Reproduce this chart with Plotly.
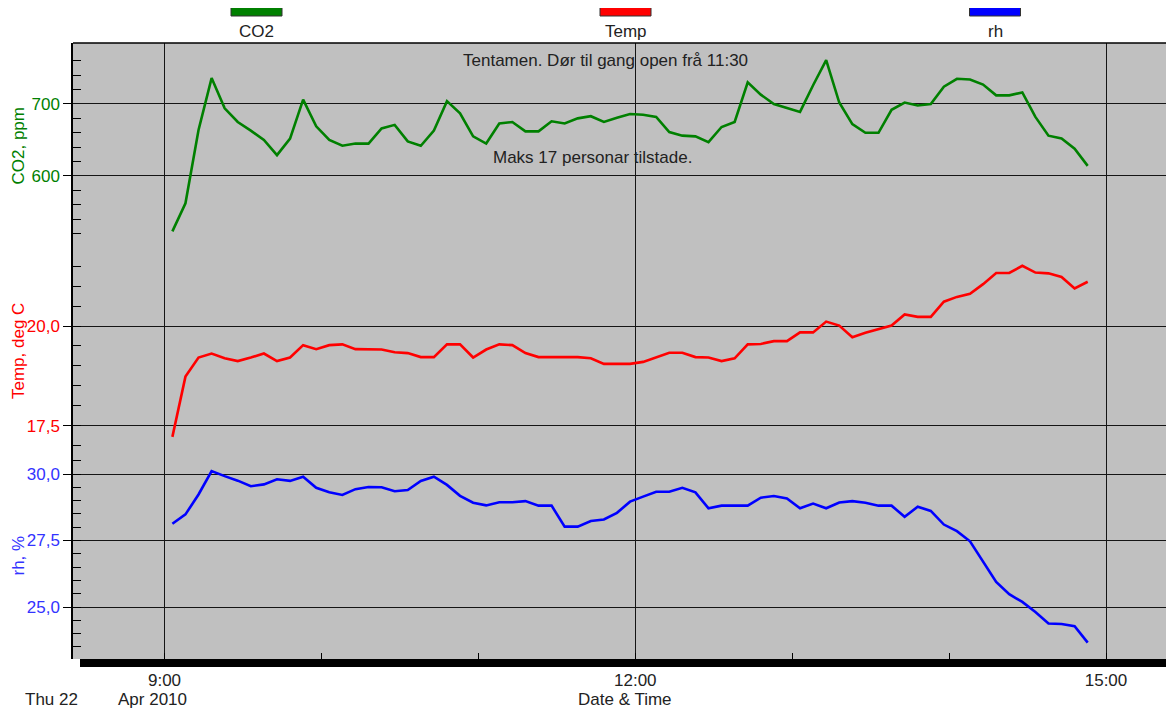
import pandas as pd
import plotly.graph_objects as go

# 5-minutters målingar, Thu 22 Apr 2010
times = pd.date_range("2010-04-22 09:03", periods=71, freq="5min")

co2 = [
    523, 562, 664, 736, 694, 675, 663, 650, 629, 652,
    706, 669, 650, 642, 645, 645, 666, 671, 648, 642,
    663, 704, 687, 655, 645, 673, 675, 662, 662, 676,
    673, 680, 683, 675, 681, 686, 685, 682, 661, 656,
    655, 647, 668, 675, 730, 713, 700, 694, 689, 726,
    761, 702, 672, 660, 660, 692, 702, 698, 700, 724,
    735, 734, 727, 712, 712, 716, 682, 656, 652, 638,
    614,
]

temp = [
    17.22, 18.73, 19.21, 19.31, 19.19, 19.12, 19.21, 19.31, 19.12, 19.21,
    19.52, 19.42, 19.52, 19.54, 19.42, 19.42, 19.41, 19.34, 19.32, 19.22,
    19.22, 19.54, 19.54, 19.21, 19.41, 19.54, 19.52, 19.32, 19.22, 19.22,
    19.22, 19.22, 19.19, 19.05, 19.05, 19.05, 19.10, 19.21, 19.33, 19.33,
    19.22, 19.21, 19.12, 19.19, 19.54, 19.55, 19.62, 19.62, 19.84, 19.84,
    20.11, 20.01, 19.72, 19.83, 19.92, 20.01, 20.29, 20.23, 20.23, 20.61,
    20.73, 20.81, 21.05, 21.33, 21.33, 21.51, 21.34, 21.32, 21.23, 20.94,
    21.11,
]

rh = [
    28.13, 28.48, 29.23, 30.11, 29.92, 29.75, 29.54, 29.61, 29.80, 29.74,
    29.90, 29.48, 29.31, 29.21, 29.43, 29.51, 29.50, 29.35, 29.40, 29.74,
    29.90, 29.59, 29.18, 28.92, 28.82, 28.94, 28.94, 28.98, 28.81, 28.81,
    28.02, 28.02, 28.23, 28.29, 28.54, 28.96, 29.15, 29.33, 29.33, 29.48,
    29.31, 28.71, 28.81, 28.81, 28.81, 29.11, 29.17, 29.08, 28.71, 28.89,
    28.71, 28.93, 28.98, 28.92, 28.81, 28.81, 28.39, 28.77, 28.61, 28.10,
    27.85, 27.47, 26.70, 25.94, 25.48, 25.19, 24.81, 24.38, 24.36, 24.28,
    23.66,
]

series_names = ["CO2", "Temp", "rh"]
series_colors = ["#008000", "#ff0000", "#0000ff"]
label_colors = ["#008000", "#ff0000", "#3333ff"]
axis_titles = ["CO2, ppm", "Temp, deg C", "rh, %"]

notes = ["Tentamen. Dør til gang open frå 11:30", "Maks 17 personar tilstade."]

# sida har 8 px body-marg, så figuren er mindre og alle mål er i skjermpikslar
OFF = 8
SCR_W, SCR_H = 1174, 715
W, H = SCR_W - OFF, SCR_H - OFF
PL, PT, PR, PB = 73, 43, 1174, 659          # plottområdet på skjermen
ML, MT, MR, MB = PL - OFF, PT - OFF, SCR_W - PR, SCR_H - PB
PW, PH = PR - PL, PB - PT
FONT = "Liberation Sans, Arial, sans-serif"
FS = 17


def px(x):
    return (x - PL) / PW


def py(y):
    return (PB - y) / PH


fig = go.Figure()
for vals, yax, name, col in zip([co2, temp, rh], ["y", "y2", "y3"], series_names, series_colors):
    fig.add_trace(go.Scatter(
        x=times, y=vals, yaxis=yax, name=name, mode="lines",
        line=dict(color=col, width=2.6), showlegend=False,
    ))

grid = "#151515"
common_y = dict(
    showgrid=True, gridcolor=grid, gridwidth=1, zeroline=False,
    showline=True, linecolor="black", linewidth=1.5,
    ticks="outside", ticklen=8, tickcolor="black",
    anchor="x",
)

fig.update_layout(
    width=W, height=H,
    margin=dict(l=ML, r=MR, t=MT, b=MB),
    paper_bgcolor="white", plot_bgcolor="#c0c0c0",
    font=dict(family=FONT, size=FS, color="#222222"),
    separators=", ",
    xaxis=dict(
        type="date",
        range=["2010-04-22 08:25:00", "2010-04-22 15:26:00"],
        tick0="2010-04-22 09:00", dtick=3 * 3600000, tickformat="%-H:%M",
        showgrid=True, gridcolor=grid, gridwidth=1, zeroline=False,
        ticks="outside", ticklen=6, tickcolor="black",
        tickfont=dict(size=FS, color="#222222"),
        minor=dict(dtick=3600000, tick0="2010-04-22 09:00", ticks="inside",
                   ticklen=6, tickcolor="black", showgrid=False),
        anchor="y3",
    ),
    yaxis=dict(
        **common_y, domain=[py(250), 1], range=[497.2, 784.7],
        tickvals=[600, 700], tickformat="d",
        tickfont=dict(color=label_colors[0], size=FS),
        minor=dict(tickvals=[520, 540, 560, 580, 620, 640, 660, 680, 720, 740, 760],
                   ticks="inside", ticklen=8, tickcolor="black", showgrid=False),
    ),
    yaxis2=dict(
        **common_y, domain=[py(452), py(250)], range=[16.84, 21.906],
        tick0=0, dtick=2.5, tickformat=".1f",
        tickfont=dict(color=label_colors[1], size=FS),
        minor=dict(dtick=0.5, tick0=0, ticks="inside", ticklen=8,
                   tickcolor="black", showgrid=False),
    ),
    yaxis3=dict(
        **common_y, domain=[0, py(452)], range=[23.045, 30.827],
        tick0=0, dtick=2.5, tickformat=".1f",
        tickfont=dict(color=label_colors[2], size=FS),
        minor=dict(dtick=0.5, tick0=0, ticks="inside", ticklen=8,
                   tickcolor="black", showgrid=False),
    ),
)

shapes = [
    # toppkant på plottet
    dict(type="line", xref="paper", yref="paper", x0=0, x1=1, y0=1, y1=1,
         line=dict(color="black", width=1.5)),
    # tjukk skuggelinje under x-aksen
    dict(type="rect", xref="paper", yref="paper", x0=px(80), x1=1, y0=py(667), y1=0,
         line=dict(width=0), fillcolor="black"),
]
annotations = []

# forklaring øvst
for name, col, cx in zip(series_names, series_colors, [256.5, 625.5, 995]):
    shapes.append(dict(type="rect", xref="paper", yref="paper",
                       x0=px(cx - 25.5), x1=px(cx + 25.5), y0=py(16), y1=py(7),
                       line=dict(color="#333333", width=1), fillcolor=col))
    annotations.append(dict(x=px(cx), y=py(31), xref="paper", yref="paper",
                            text=name, showarrow=False, xanchor="center", yanchor="middle",
                            font=dict(size=FS, color="#222222")))

# aksetitlar
for title, col, cy in zip(axis_titles, label_colors, [146.5, 351, 555.5]):
    annotations.append(dict(x=px(18), y=py(cy), xref="paper", yref="paper",
                            text=title, textangle=-90, showarrow=False,
                            xanchor="center", yanchor="middle",
                            font=dict(size=FS, color=col)))

# merknader i plottet
for txt, cx, cy in zip(notes, [605, 592], [60, 157]):
    annotations.append(dict(x=px(cx), y=py(cy), xref="paper", yref="paper",
                            text=txt, showarrow=False, xanchor="center", yanchor="middle",
                            font=dict(size=FS, color="#222222")))

# dato og x-tittel
for txt, cx in zip(["Thu 22", "Apr 2010", "Date & Time"], [51.5, 152, 624.5]):
    annotations.append(dict(x=px(cx), y=py(699), xref="paper", yref="paper",
                            text=txt, showarrow=False, xanchor="center", yanchor="middle",
                            font=dict(size=FS, color="#222222")))

fig.update_layout(shapes=shapes, annotations=annotations)

fig.write_html("out.html")
